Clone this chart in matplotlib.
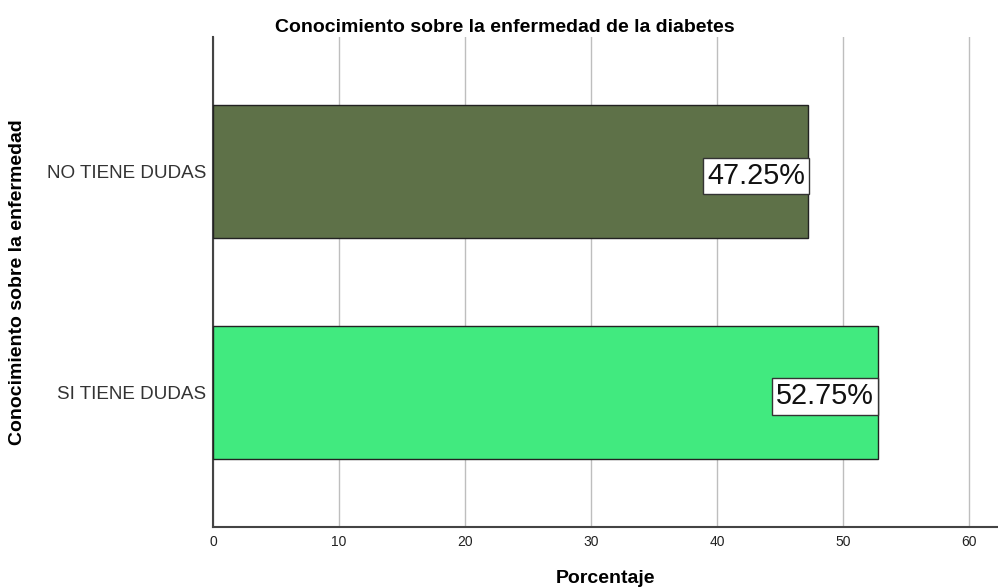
import matplotlib.pyplot as plt

plt.rcParams['font.family'] = ['Liberation Sans', 'DejaVu Sans']

# data
categorias = ['SI TIENE DUDAS', 'NO TIENE DUDAS']
porcentajes = [52.75, 47.25]
colores = ['#41EA7F', '#5E7148']
etiquetas = ['52.75%', '47.25%']

fig = plt.figure(figsize=(9.98, 5.87), dpi=100)
ax = fig.add_axes([0.2134, 0.1022, 0.7866, 0.835])

pos = list(range(len(categorias)))
ax.barh(pos, porcentajes, height=0.6, color=colores, edgecolor='#222222', linewidth=1, zorder=3)

for p, v, lab in zip(pos, porcentajes, etiquetas):
    ax.annotate(lab, xy=(v, p), xytext=(-2.5, -3), textcoords='offset points',
                ha='right', va='center', fontsize=20.8, color='#111111', zorder=4,
                bbox=dict(boxstyle='square,pad=0.14', fc='white', ec='#333333', lw=1))

ax.set_xlim(0, 62.3)
ax.set_ylim(-0.61, 1.61)
ax.set_xticks([0, 10, 20, 30, 40, 50, 60])
ax.set_yticks(pos)
ax.set_yticklabels(categorias, fontsize=13.6, color='#333333')
ax.tick_params(axis='x', length=0, labelsize=10, pad=6, colors='#222222')
ax.tick_params(axis='y', length=0, pad=5)
ax.grid(axis='x', color='#BEBEBE', linewidth=1, zorder=0)
ax.set_axisbelow(True)

for s in ['top', 'right']:
    ax.spines[s].set_visible(False)
for s in ['left', 'bottom']:
    ax.spines[s].set_color('#444444')
    ax.spines[s].set_linewidth(1.5)

fig.suptitle('Conocimiento sobre la enfermedad de la diabetes', fontsize=14, fontweight='bold',
             x=0.506, y=0.968, va='top')
ax.set_xlabel('Porcentaje', fontsize=14, fontweight='bold')
ax.xaxis.set_label_coords(0.5, -0.088)
ax.set_ylabel('Conocimiento sobre la enfermedad', fontsize=14, fontweight='bold')
ax.yaxis.set_label_coords(-0.238, 0.5)

fig.savefig('out.png', dpi=100)
